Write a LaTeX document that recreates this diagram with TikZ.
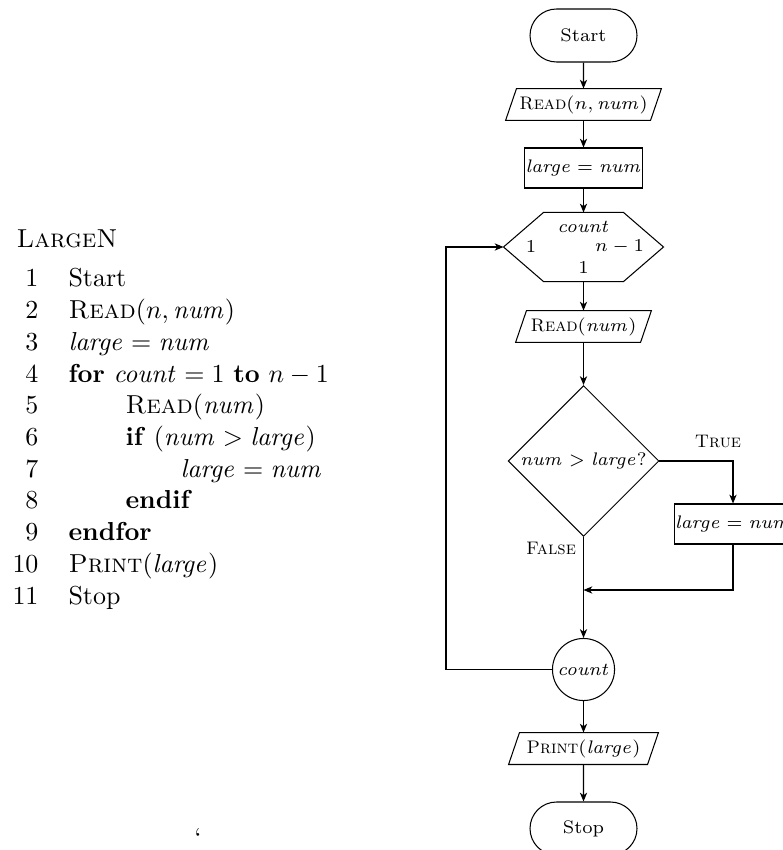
\documentclass[tikz,border=0pt]{standalone}
\usetikzlibrary{shapes.geometric,shapes.misc,arrows.meta,calc}
\newcommand\ioshape[1]{\draw ([xshift=-2.1pt]#1.south west) -- ([xshift=2.1pt]#1.north west) -- ([xshift=2.1pt]#1.north east) -- ([xshift=-2.1pt]#1.south east) -- cycle;}
\begin{document}
\begin{tikzpicture}[x=0.385pt,y=-0.385pt,
  >={Stealth[length=3.4pt,width=2.8pt,inset=1pt]},
  term/.style={rounded rectangle, draw, minimum width=41.2pt, minimum height=20.4pt, inner sep=0pt, font=\scriptsize},
  proc/.style={rectangle, draw, minimum width=45.4pt, minimum height=15.4pt, inner sep=0pt, font=\scriptsize},
  iobox/.style={rectangle, minimum height=11.9pt, inner sep=0pt, font=\scriptsize},
  decision/.style={diamond, draw, minimum width=58.1pt, minimum height=58.1pt, aspect=1, inner sep=0pt, font=\scriptsize},
  conn/.style={circle, draw, minimum size=23.9pt, inner sep=0pt, font=\scriptsize},
  small/.style={inner sep=0pt, font=\scriptsize},
  num/.style={anchor=base east, inner sep=0pt},
  code/.style={anchor=base west, inner sep=0pt}]
\useasboundingbox (0,0) rectangle (783,850);

% pseudocode
\node[code] (title) at (16,248) {\textsc{LargeN}};
\node[num] (n1) at (39,287) {1};      \node[code] (c1) at (68,287) {Start};
\node[num] (n2) at (39,318.7) {2};    \node[code] (c2) at (68,318.7) {\textsc{Read}$(n, \mathit{num})$};
\node[num] (n3) at (39,350.4) {3};    \node[code] (c3) at (68,350.4) {$\mathit{large} = \mathit{num}$};
\node[num] (n4) at (39,382.1) {4};    \node[code] (c4) at (68,382.1) {\textbf{for} $\mathit{count} = 1$ \textbf{to} $n-1$};
\node[num] (n5) at (39,413.8) {5};    \node[code] (c5) at (125,413.8) {\textsc{Read}$(\mathit{num})$};
\node[num] (n6) at (39,445.5) {6};    \node[code] (c6) at (125,445.5) {\textbf{if} $(\mathit{num} > \mathit{large})$};
\node[num] (n7) at (39,477.2) {7};    \node[code] (c7) at (180,477.2) {$\mathit{large} = \mathit{num}$};
\node[num] (n8) at (39,508.9) {8};    \node[code] (c8) at (125,508.9) {\textbf{endif}};
\node[num] (n9) at (39,540.6) {9};    \node[code] (c9) at (68,540.6) {\textbf{endfor}};
\node[num] (n10) at (39,572.3) {10};  \node[code] (c10) at (68,572.3) {\textsc{Print}$(\mathit{large})$};
\node[num] (n11) at (39,604) {11};    \node[code] (c11) at (68,604) {Stop};
\node[inner sep=0pt, anchor=base] (tick) at (198,846) {`};

% flowchart
\node[term] (start) at (583.5,35.5) {Start};
\node[iobox, minimum width=55.4pt] (read1) at (583.5,104.5) {\textsc{Read}$(n, \mathit{num})$};
\ioshape{read1}
\node[proc] (init) at (583.5,168) {$\mathit{large} = \mathit{num}$};
\node[rectangle, minimum width=61.2pt, minimum height=26.2pt, inner sep=0pt] (hex) at (583.5,247) {};
\draw (hex.west) -- ([xshift=15.4pt]hex.north west) -- ([xshift=-15.4pt]hex.north east) -- (hex.east)
      -- ([xshift=-15.4pt]hex.south east) -- ([xshift=15.4pt]hex.south west) -- cycle;
\node[small] (hcount) at (583.5,227) {$\mathit{count}$};
\node[small] (hfrom) at (531,247) {$1$};
\node[small] (hto) at (619.5,247) {$n-1$};
\node[small] (hstep) at (583.5,268) {$1$};
\node[iobox, minimum width=47.7pt] (read2) at (583.5,326.5) {\textsc{Read}$(\mathit{num})$};
\ioshape{read2}
\node[decision] (dec) at (583.5,461) {$\mathit{num} > \mathit{large}?$};
\node[proc] (upd) at (733,524) {$\mathit{large} = \mathit{num}$};
\node[conn] (loop) at (583.5,669.5) {$\mathit{count}$};
\node[iobox, minimum width=53.1pt] (print) at (583.5,748.5) {\textsc{Print}$(\mathit{large})$};
\ioshape{print}
\node[term] (stop) at (583.5,828.5) {Stop};

\node[small] (ltrue) at (718,441) {\textsc{True}};
\node[small] (lfalse) at (551,548) {\textsc{False}};

\coordinate (join) at (583.5,590);
\coordinate (back) at (446,669.5);

\draw[->] (start) -- (read1);
\draw[->] (read1) -- (init);
\draw[->] (init) -- (hex);
\draw[->] (hex) -- (read2);
\draw[->] (read2) -- (dec);
\draw[->] (dec.east) -| (upd.north);
\draw[->] (upd.south) |- (join);
\draw[->] (dec.south) -- (loop);
\draw[->] (loop) -- (print);
\draw[->] (print) -- (stop);
\draw[->] (loop.west) -- (back) |- (hex.west);
\end{tikzpicture}
\end{document}
